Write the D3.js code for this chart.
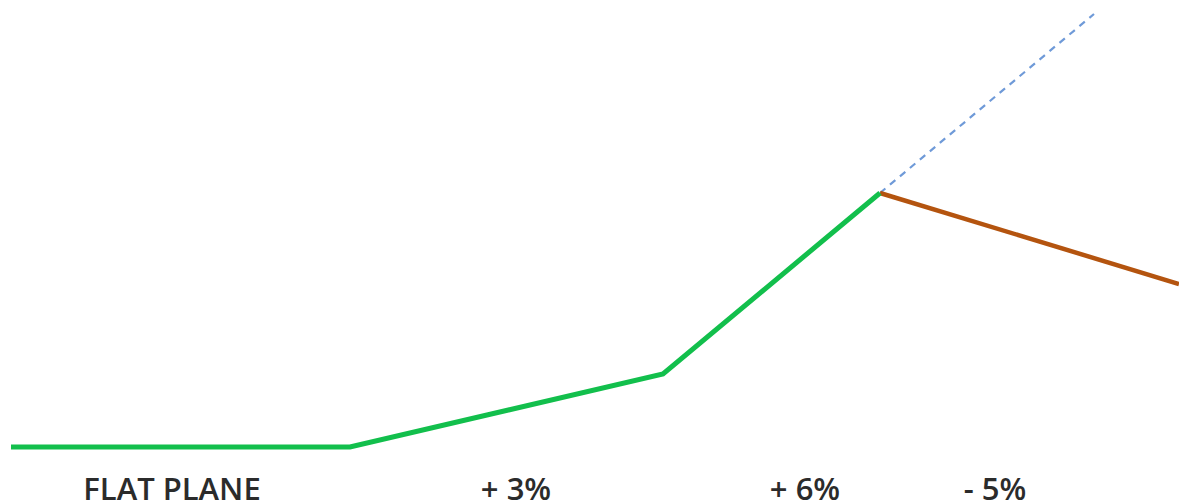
<!DOCTYPE html>
<html>
<head>
<meta charset="utf-8">
<script src="https://cdn.jsdelivr.net/npm/d3@7"></script>
<style>
  html, body { margin: 0; padding: 0; background: #fff; overflow: hidden; }
  text { font-family: "Open Sans", "DejaVu Sans", sans-serif; }
</style>
</head>
<body>
<div id="chart"></div>
<script>
// route profile: distance along the route and relative elevation
var climbDistance = [0, 339, 652, 869];
var climbElevation = [0, 0, 73, 254];
var descentDistance = [869, 1168];
var descentElevation = [254, 163];
var projectedDistance = [869, 1083];
var projectedElevation = [254, 433];

var segmentLabels = ["FLAT PLANE", "+ 3%", "+ 6%", "- 5%"];
var labelDistance = [161, 505, 794, 984];

var width = 1179, height = 503;

var x = d3.scaleLinear().domain([0, 1168]).range([11, 1179]);
var y = d3.scaleLinear().domain([0, 447]).range([447, 0]);

var svg = d3.select("#chart").append("svg")
  .attr("width", width)
  .attr("height", height)
  .style("display", "block");

var line = d3.line()
  .x(function(d) { return x(d[0]); })
  .y(function(d) { return y(d[1]); });

function drawPath(xs, ys, color, w, dash) {
  var p = svg.append("path")
    .datum(d3.zip(xs, ys))
    .attr("d", line)
    .attr("fill", "none")
    .attr("stroke", color)
    .attr("stroke-width", w)
    .attr("stroke-linejoin", "miter");
  if (dash) p.attr("stroke-dasharray", dash);
}

drawPath(projectedDistance, projectedElevation, "#6f9ad8", 2.2, "7,6");
drawPath(descentDistance, descentElevation, "#b4540f", 4.5);
drawPath(climbDistance, climbElevation, "#12bf4c", 5);

svg.selectAll(".seglabel")
  .data(segmentLabels)
  .enter().append("text")
  .attr("class", "seglabel")
  .attr("x", function(d, i) { return x(labelDistance[i]); })
  .attr("y", 500)
  .attr("text-anchor", "middle")
  .attr("font-size", 31)
  .attr("font-weight", 600)
  .attr("fill", "#2b2b2b")
  .text(function(d) { return d; });
</script>
</body>
</html>
